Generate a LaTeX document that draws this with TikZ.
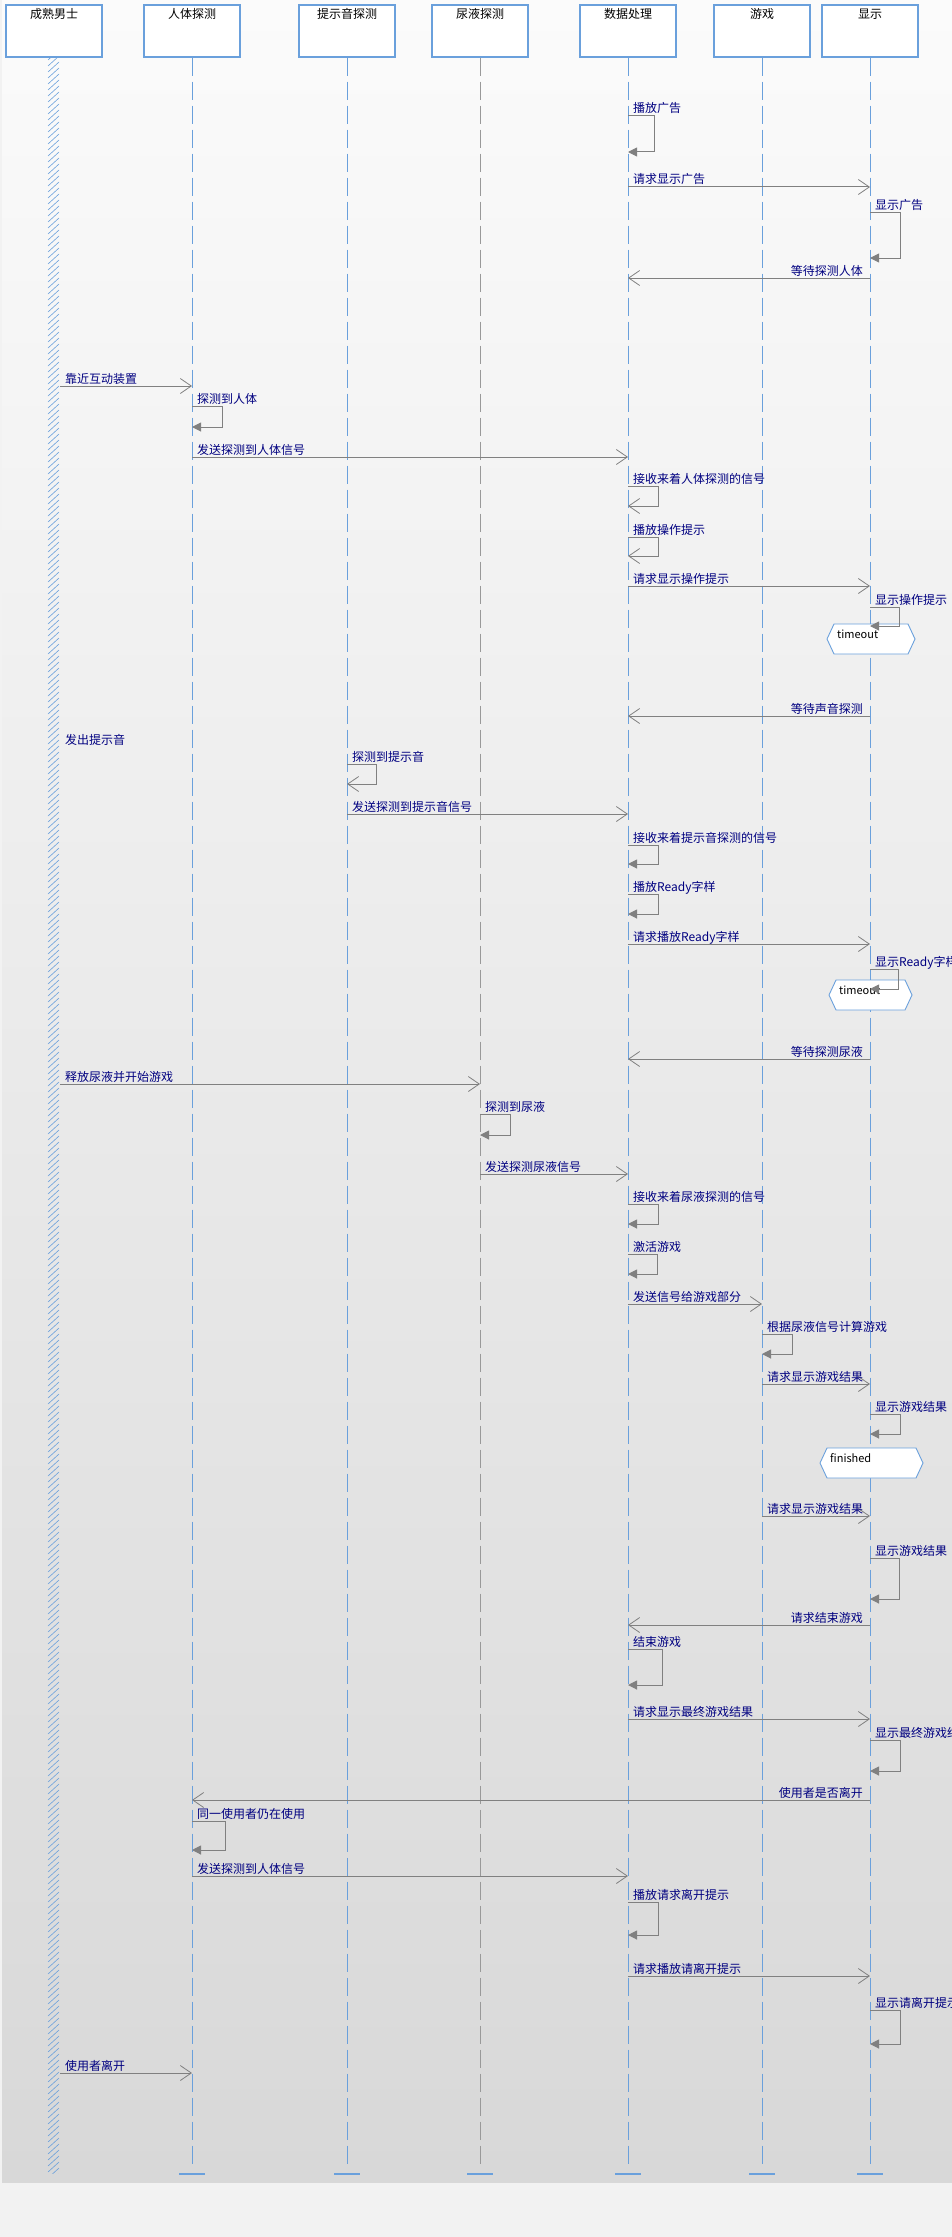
\documentclass[tikz,border=0pt]{standalone}
\usepackage{fontspec}
\setmainfont{Noto Sans CJK SC}
\usetikzlibrary{arrows.meta}
\definecolor{lifeblue}{HTML}{6AA0DC}
\definecolor{msggray}{HTML}{808080}
\definecolor{lblnavy}{HTML}{000080}
\tikzset{
  hbox/.style={draw=lifeblue,line width=1.1pt,fill=white,minimum width=96pt,minimum height=52pt,inner sep=0pt},
  htext/.style={font=\fontsize{12}{13}\selectfont,text=black,inner sep=0pt,anchor=base},
  life/.style={draw=lifeblue,line width=0.9pt,dash pattern=on 18pt off 6pt},
  lifegray/.style={draw=gray!80,line width=0.7pt,dash pattern=on 18pt off 6pt},
  endbar/.style={draw=lifeblue,line width=1.4pt},
  msg/.style={draw=msggray,line width=1pt,-{Straight Barb[length=11pt,width=15pt,line width=0.8pt]}},
  selff/.style={draw=msggray,line width=1pt,-{Triangle[length=9pt,width=9pt]}},
  selfo/.style={draw=msggray,line width=1pt,-{Straight Barb[length=11pt,width=15pt,line width=0.8pt]}},
  lbl/.style={font=\fontsize{12}{13}\selectfont,text=lblnavy,inner sep=0pt},
  hexs/.style={draw=lifeblue,line width=0.9pt,fill=white},
  hextext/.style={font=\fontsize{11}{12}\selectfont,text=black,inner sep=0pt,anchor=base west},
  hatch/.style={draw=lifeblue,line width=0.6pt}
}
\newcommand\rmsg[4]{%
  \draw[msg] (#1 |- 0,#3) -- (#2 |- 0,#3);
  \path (#1 |- 0,#3) node[lbl,anchor=base west,xshift=5pt,yshift=3pt]{#4};}
\newcommand\lmsg[4]{%
  \draw[msg] (#1 |- 0,#3) -- (#2 |- 0,#3);
  \path (#1 |- 0,#3) node[lbl,anchor=base east,xshift=-7pt,yshift=3pt]{#4};}
\newcommand\smsg[6]{%
  \draw[#1] (#2 |- 0,#3) -- ++(#4,0) |- (#2 |- 0,#5);
  \path (#2 |- 0,#3) node[lbl,anchor=base west,xshift=5pt,yshift=3pt]{#6};}
\newcommand\hexa[6]{%
  \draw[hexs] (#2,{(#4+#5)/2}) -- ({#2+7},#4) -- ({#3-7},#4) -- (#3,{(#4+#5)/2}) -- ({#3-7},#5) -- ({#2+7},#5) -- cycle;
  \node[hextext] (#1) at ({#2+10},{#4+14}) {#6};}
\begin{document}
\begin{tikzpicture}[x=1pt,y=-1pt]
\useasboundingbox (0,0) rectangle (952,2237);
% background
\fill[color={rgb,255:red,242;green,242;blue,242}] (0,0) rectangle (952,2237);
\shade[top color={rgb,255:red,251;green,251;blue,251},bottom color={rgb,255:red,216;green,216;blue,216}] (2,0) rectangle (952,2182);
% headers
\node[hbox] (hcs) at (54,31) {};
\node[hbox] (hhb) at (192,31) {};
\node[hbox] (hsnd) at (347,31) {};
\node[hbox] (huri) at (480,31) {};
\node[hbox] (hdp) at (628,31) {};
\node[hbox] (hgame) at (762,31) {};
\node[hbox] (hdisp) at (870,31) {};
\node[htext] (tcs) at (54,19) {成熟男士};
\node[htext] (thb) at (192,19) {人体探测};
\node[htext] (tsnd) at (347,19) {提示音探测};
\node[htext] (turi) at (480,19) {尿液探测};
\node[htext] (tdp) at (628,19) {数据处理};
\node[htext] (tgame) at (762,19) {游戏};
\node[htext] (tdisp) at (870,19) {显示};
% hatched lifeline of the actor
\begin{scope}
\clip (47,57) rectangle (61,2173);
\foreach \k in {0,...,354} {\draw[hatch] (48,{60+6*\k}) -- ++(11,-10);}
\end{scope}
\coordinate (mx) at (60,0);
% lifelines
\foreach \n in {hhb,hsnd,hdp,hgame,hdisp} {
  \draw[life] (\n.south) -- (\n |- 0,2169);
  \draw[endbar] (\n |- 0,2174) ++(-13,0) -- ++(26,0);
}
\draw[lifegray] (huri.south) -- (huri |- 0,2169);
\draw[endbar] (huri |- 0,2174) ++(-13,0) -- ++(26,0);
% messages
\smsg{selff}{hdp}{116}{26}{152}{播放广告}
\rmsg{hdp}{hdisp}{187}{请求显示广告}
\smsg{selff}{hdisp}{213}{30}{258}{显示广告}
\lmsg{hdisp}{hdp}{278}{等待探测人体}
\draw[msg] (mx |- 0,386) -- (hhb |- 0,386);
\path (mx |- 0,386) node[lbl,anchor=base west,xshift=5pt,yshift=3pt]{靠近互动装置};
\smsg{selff}{hhb}{406}{30}{427}{探测到人体}
\rmsg{hhb}{hdp}{457}{发送探测到人体信号}
\smsg{selfo}{hdp}{486}{30}{506}{接收来着人体探测的信号}
\smsg{selfo}{hdp}{537}{30}{556}{播放操作提示}
\rmsg{hdp}{hdisp}{586}{请求显示操作提示}
\hexa{to1}{827}{915}{624}{654}{timeout}
\smsg{selff}{hdisp}{607}{29}{626}{显示操作提示}
\lmsg{hdisp}{hdp}{716}{等待声音探测}
\node[lbl,anchor=base west] (sound) at (65,744) {发出提示音};
\smsg{selfo}{hsnd}{764}{29}{784}{探测到提示音}
\rmsg{hsnd}{hdp}{814}{发送探测到提示音信号}
\smsg{selff}{hdp}{845}{30}{864}{接收来着提示音探测的信号}
\smsg{selff}{hdp}{894}{30}{914}{播放Ready字样}
\rmsg{hdp}{hdisp}{944}{请求播放Ready字样}
\hexa{to2}{829}{912}{980}{1010}{timeout}
\smsg{selff}{hdisp}{969}{28}{989}{显示Ready字样}
\lmsg{hdisp}{hdp}{1059}{等待探测尿液}
\draw[msg] (mx |- 0,1084) -- (huri |- 0,1084);
\path (mx |- 0,1084) node[lbl,anchor=base west,xshift=5pt,yshift=3pt]{释放尿液并开始游戏};
\smsg{selff}{huri}{1114}{30}{1135}{探测到尿液}
\rmsg{huri}{hdp}{1174}{发送探测尿液信号}
\smsg{selff}{hdp}{1204}{30}{1224}{接收来着尿液探测的信号}
\smsg{selff}{hdp}{1254}{29}{1274}{激活游戏}
\rmsg{hdp}{hgame}{1304}{发送信号给游戏部分}
\smsg{selff}{hgame}{1334}{30}{1354}{根据尿液信号计算游戏}
\rmsg{hgame}{hdisp}{1384}{请求显示游戏结果}
\smsg{selff}{hdisp}{1414}{30}{1434}{显示游戏结果}
\hexa{fin}{820}{923}{1448}{1478}{finished}
\rmsg{hgame}{hdisp}{1516}{请求显示游戏结果}
\smsg{selff}{hdisp}{1558}{29}{1599}{显示游戏结果}
\lmsg{hdisp}{hdp}{1625}{请求结束游戏}
\smsg{selff}{hdp}{1649}{34}{1685}{结束游戏}
\rmsg{hdp}{hdisp}{1719}{请求显示最终游戏结果}
\smsg{selff}{hdisp}{1740}{30}{1771}{显示最终游戏结果}
\lmsg{hdisp}{hhb}{1800}{使用者是否离开}
\smsg{selff}{hhb}{1821}{33}{1850}{同一使用者仍在使用}
\rmsg{hhb}{hdp}{1876}{发送探测到人体信号}
\smsg{selff}{hdp}{1902}{30}{1935}{播放请求离开提示}
\rmsg{hdp}{hdisp}{1976}{请求播放请离开提示}
\smsg{selff}{hdisp}{2010}{30}{2044}{显示请离开提示}
\draw[msg] (mx |- 0,2073) -- (hhb |- 0,2073);
\path (mx |- 0,2073) node[lbl,anchor=base west,xshift=5pt,yshift=3pt]{使用者离开};
\end{tikzpicture}
\end{document}
